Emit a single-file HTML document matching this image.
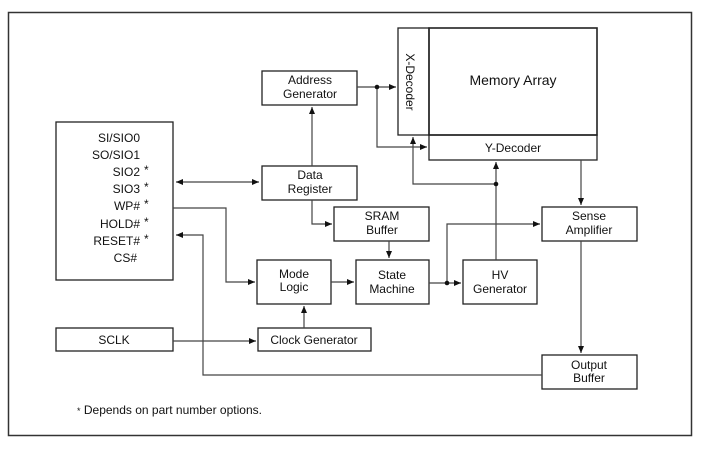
<!DOCTYPE html>
<html><head><meta charset="utf-8"><style>
html,body{margin:0;padding:0;background:#fff;}
svg{display:block;}
text{font-family:"Liberation Sans",Arial,sans-serif;font-size:12px;fill:#111;}
</style></head><body>
<svg width="703" height="452" viewBox="0 0 703 452" xmlns="http://www.w3.org/2000/svg">
<defs>
<marker id="a" markerWidth="8" markerHeight="8" refX="7" refY="4" orient="auto" markerUnits="userSpaceOnUse">
<path d="M0,1 L7,4 L0,7 Z" fill="#111"/></marker>
<marker id="b" markerWidth="8" markerHeight="8" refX="0" refY="4" orient="auto" markerUnits="userSpaceOnUse">
<path d="M7,1 L0,4 L7,7 Z" fill="#111"/></marker>
</defs>
<rect x="8.5" y="12.5" width="683" height="423" fill="none" stroke="#333" stroke-width="1.5"/>
<g fill="none" stroke="#222" stroke-width="1.3">
<rect x="56" y="122" width="117" height="158"/>
<rect x="56" y="328" width="117" height="23"/>
<rect x="262" y="71" width="95" height="34"/>
<rect x="262" y="166" width="95" height="34"/>
<rect x="398" y="28" width="31" height="107"/>
<rect x="429" y="28" width="168" height="107" stroke-width="1.6"/>
<rect x="429" y="135" width="168" height="25"/>
<rect x="334" y="207" width="95" height="34"/>
<rect x="257" y="260" width="74" height="44"/>
<rect x="356" y="260" width="73" height="44"/>
<rect x="258" y="328" width="113" height="23"/>
<rect x="463" y="260" width="74" height="44"/>
<rect x="542" y="207" width="95" height="34"/>
<rect x="542" y="355" width="95" height="34"/>
</g>
<g fill="none" stroke="#444" stroke-width="1.2">
<path d="M176,182 H259" marker-start="url(#b)" marker-end="url(#a)"/>
<path d="M173,208 H226 V282 H255" marker-end="url(#a)"/>
<path d="M542,375 H203 V235 H176" marker-end="url(#a)"/>
<path d="M173,341 H256" marker-end="url(#a)"/>
<path d="M304,328 V306" marker-end="url(#a)"/>
<path d="M331,282 H354" marker-end="url(#a)"/>
<path d="M312,166 V107" marker-end="url(#a)"/>
<path d="M312,200 V224 H332" marker-end="url(#a)"/>
<path d="M389,241 V258" marker-end="url(#a)"/>
<path d="M429,283 H461" marker-end="url(#a)"/>
<path d="M447,283 V224 H540" marker-end="url(#a)"/>
<path d="M496,260 V162" marker-end="url(#a)"/>
<path d="M496,184 H413 V137" marker-end="url(#a)"/>
<path d="M357,87 H396" marker-end="url(#a)"/>
<path d="M377,87 V147 H427" marker-end="url(#a)"/>
<path d="M581,160 V205" marker-end="url(#a)"/>
<path d="M581,241 V353" marker-end="url(#a)"/>
</g>
<g fill="#111"><circle cx="377" cy="87" r="2.3"/><circle cx="496" cy="184" r="2.3"/><circle cx="447" cy="283" r="2.3"/></g>
<g text-anchor="end">
<text x="140" y="142">SI/SIO0</text>
<text x="140" y="159">SO/SIO1</text>
<text x="140" y="176">SIO2</text>
<text x="140" y="193">SIO3</text>
<text x="140" y="210">WP#</text>
<text x="140" y="228">HOLD#</text>
<text x="140" y="245">RESET#</text>
<text x="137" y="262">CS#</text>
</g>
<g style="font-size:9px"><text x="144" y="174">*</text><text x="144" y="191">*</text><text x="144" y="208">*</text><text x="144" y="226">*</text><text x="144" y="243">*</text></g>
<g text-anchor="middle">
<text x="114" y="344">SCLK</text>
<text x="310" y="84">Address</text><text x="310" y="98">Generator</text>
<text x="310" y="179">Data</text><text x="310" y="193">Register</text>
<text x="513" y="85" style="font-size:14px">Memory Array</text>
<text x="513" y="152">Y-Decoder</text>
<text x="382" y="220">SRAM</text><text x="382" y="234">Buffer</text>
<text x="294" y="278">Mode</text><text x="294" y="291">Logic</text>
<text x="392" y="279">State</text><text x="392" y="293">Machine</text>
<text x="314" y="344">Clock Generator</text>
<text x="500" y="279">HV</text><text x="500" y="293">Generator</text>
<text x="589" y="220">Sense</text><text x="589" y="234">Amplifier</text>
<text x="589" y="369">Output</text><text x="589" y="382">Buffer</text>
</g>
<text x="409" y="82" text-anchor="middle" transform="rotate(90 409 82)" dominant-baseline="middle">X-Decoder</text>
<text x="77" y="414"><tspan style="font-size:9px">*</tspan> Depends on part number options.</text>
</svg>
</body></html>
